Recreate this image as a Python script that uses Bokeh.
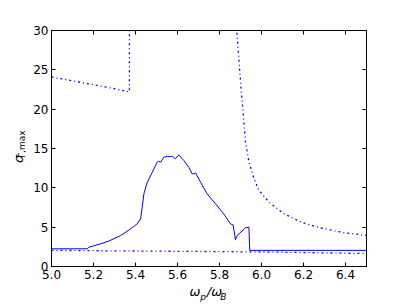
from bokeh.plotting import figure
from bokeh.models import LinearAxis, FixedTicker, Range1d, PrintfTickFormatter
from bokeh.embed import file_html
from bokeh.resources import INLINE

# ---- data ----
solid_x = [5.00, 5.17, 5.178, 5.233, 5.27, 5.313, 5.329, 5.35, 5.376, 5.408, 5.424, 5.432, 5.44,
           5.456, 5.48, 5.503, 5.511, 5.519, 5.535, 5.551, 5.575, 5.59, 5.606, 5.63, 5.654,
           5.67, 5.678, 5.686, 5.71, 5.741, 5.781, 5.82, 5.852, 5.865, 5.876, 5.884, 5.924,
           5.94, 5.944, 6.0, 6.5]
solid_y = [2.25, 2.25, 2.45, 2.88, 3.2, 3.73, 3.94, 4.3, 4.78, 5.42, 6.05, 7.54, 9.24,
           10.7, 11.98, 13.25, 13.38, 13.25, 13.89, 14.0, 14.0, 13.7, 14.2, 13.47, 12.6,
           11.78, 11.78, 11.9, 10.7, 9.24, 7.97, 6.7, 5.42, 5.29, 3.39, 3.94, 4.91,
           5.0, 2.05, 2.05, 2.05]

upper_left_x = [5.0, 5.1, 5.2, 5.3, 5.37, 5.371, 5.371]
upper_left_y = [24.1, 23.6, 23.1, 22.6, 22.2, 22.2, 40.0]

upper_right_x = [5.87, 5.882, 5.9, 5.924, 5.94, 5.963, 5.987, 6.035, 6.107, 6.193, 6.281, 6.392, 6.5]
upper_right_y = [40.0, 30.0, 23.6, 15.8, 13.3, 11.3, 9.7, 8.2, 6.7, 5.6, 4.9, 4.3, 3.95]

lower_x = [5.0, 5.5, 6.0, 6.5]
lower_y = [2.05, 1.95, 1.85, 1.65]

x_ticks = [5.0, 5.2, 5.4, 5.6, 5.8, 6.0, 6.2, 6.4]
y_ticks = [0, 5, 10, 15, 20, 25, 30]

BLUE = "#0000ff"
FONT = "DejaVu Sans"
NB = "\u00a0"
EN = "\u2002"

p = figure(frame_width=315, frame_height=236,
           min_border_left=51, min_border_right=41, min_border_top=30, min_border_bottom=39,
           x_range=Range1d(5.0, 6.5), y_range=Range1d(0, 30),
           output_backend="svg", toolbar_location=None,
           background_fill_color="white", border_fill_color="white")
p.xgrid.visible = False
p.ygrid.visible = False
p.outline_line_color = "black"
p.outline_line_width = 1

p.line(solid_x, solid_y, line_color=BLUE, line_width=1)
dash = "2 3 1 3"
p.line(upper_left_x, upper_left_y, line_color=BLUE, line_width=1.3, line_dash=dash)
p.line(upper_right_x, upper_right_y, line_color=BLUE, line_width=1.3, line_dash=dash)
p.line(lower_x, lower_y, line_color=BLUE, line_width=1.3, line_dash=dash)

def style(ax, ticks, labels=True):
    ax.ticker = FixedTicker(ticks=ticks)
    ax.minor_tick_line_color = None
    ax.major_tick_in = 4
    ax.major_tick_out = 0
    ax.major_tick_line_color = "black"
    ax.axis_line_color = "black"
    if labels:
        ax.major_label_text_font = FONT
        ax.major_label_text_font_size = "12px"
        ax.major_label_text_color = "black"
        ax.major_label_standoff = 3
    else:
        ax.major_label_text_font_size = "0px"
        ax.major_label_text_color = None

def label_only_axis(label, size, italic, standoff):
    ax = LinearAxis(ticker=FixedTicker(ticks=[]))
    ax.axis_line_color = None
    ax.major_tick_line_color = None
    ax.minor_tick_line_color = None
    ax.major_label_text_font_size = "0px"
    ax.major_label_text_color = None
    ax.axis_label = label
    ax.axis_label_text_font = FONT
    ax.axis_label_text_font_size = size
    ax.axis_label_text_font_style = "italic" if italic else "normal"
    ax.axis_label_text_color = "black"
    ax.axis_label_standoff = standoff
    return ax

xa = p.xaxis[0]
ya = p.yaxis[0]
style(xa, x_ticks)
style(ya, y_ticks)
xa.formatter = PrintfTickFormatter(format="%.1f")

# x label main part: ω  /ω
xa.axis_label = "ω" + EN + "/ω" + EN
xa.axis_label_text_font = FONT
xa.axis_label_text_font_size = "13px"
xa.axis_label_text_font_style = "italic"
xa.axis_label_text_color = "black"
xa.axis_label_standoff = 2
# x label subscripts: p, B
p.add_layout(label_only_axis(NB * 3 + "p" + NB * 5 + "B", "9px", True, -10), "below")

# y label subscript Γ,max (closest to frame), then σ
ya.axis_label = NB * 3 + "Γ,max"
ya.axis_label_text_font = FONT
ya.axis_label_text_font_size = "9px"
ya.axis_label_text_font_style = "normal"
ya.axis_label_text_color = "black"
ya.axis_label_standoff = 3
p.add_layout(label_only_axis("σ" + NB * 5, "13px", True, -11), "left")

top = LinearAxis()
style(top, x_ticks, labels=False)
p.add_layout(top, "above")
right = LinearAxis()
style(right, y_ticks, labels=False)
p.add_layout(right, "right")

open("out.html", "w").write(file_html(p, INLINE))
